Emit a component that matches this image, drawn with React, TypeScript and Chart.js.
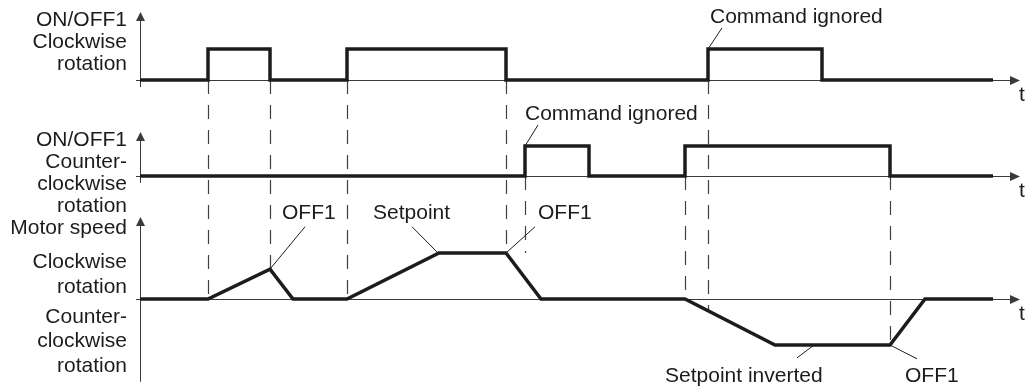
import React, { useEffect, useRef } from 'react';
import { Chart, registerables } from 'chart.js';

Chart.register(...registerables);

const W = 1029;
const H = 386;

// ---- signal data (time in arbitrary units from the vertical axes) ----
const cwTimes = [0, 68, 130, 207, 366, 568, 682, 853];
const cwStates = [0, 1, 0, 1, 0, 1, 0, 0];

const ccwTimes = [0, 385, 449, 545, 750, 853];
const ccwStates = [0, 1, 0, 1, 0, 0];

const speedTimes = [0, 68, 130, 153, 207, 299, 366, 401, 545, 635, 750, 785, 853];
const speedValues = [0, 0, 0.65, 0, 0, 1, 1, 0, 0, -1, -1, 0, 0];

// ---- dashed event markers ----
const markerTimes = [68, 130, 207, 366, 385, 545, 568, 750];
const markerFrom = ['yTop', 'yTop', 'yTop', 'yTop', 'yMid', 'yMid', 'yTop', 'yMid'];
const markerToSpeed = [0, 0.65, 0, 1, 1, 0, -0.26, -1];

// ---- axis labels ----
const topLabels = ['ON/OFF1', 'Clockwise', 'rotation'];
const topLabelAt = [1.74, 1.03, 0.32];
const midLabels = ['ON/OFF1', 'Counter-', 'clockwise', 'rotation'];
const midLabelAt = [1.0, 0.27, -0.47, -1.2];
const botLabels = ['Motor speed', 'Clockwise', 'rotation', 'Counter-', 'clockwise', 'rotation'];
const botLabelAt = [1.41, 0.67, 0.13, -0.52, -1.04, -1.59];

// ---- annotations ----
const noteTexts = ['Command ignored', 'Command ignored', 'OFF1', 'Setpoint', 'OFF1', 'Setpoint inverted', 'OFF1'];
const notePanels = ['yTop', 'yMid', 'yBot', 'yBot', 'yBot', 'yBot', 'yBot'];
const noteTextAt = [[570, 1.83], [385, 1.88], [142, 1.74], [233, 1.74], [398, 1.74], [525, -1.8], [765, -1.8]];
const noteLeaderFrom = [[582, 1.68], [398, 1.7], [165, 1.57], [272, 1.57], [395, 1.57], [657, -1.28], [777, -1.3]];
const noteLeaderTo = [[568, 1], [385, 1], [130, 0.65], [298, 1], [366, 1], [674, -1], [750, -1]];

// vertical axis extents per panel (value range)
const axisPanels = ['yTop', 'yMid', 'yBot'];
const axisLow = [-0.23, -0.23, -1.8];
const axisHigh = [2.19, 1.47, 1.78];

const INK = '#1c1c1c';
const THIN = '#3a3a3a';
const FONT = '21px "Liberation Sans", Arial, sans-serif';

function band(zeroPx: number, unitPx: number) {
  return { min: (zeroPx - H) / unitPx, max: zeroPx / unitPx };
}

const diagramPlugin = {
  id: 'diagram',
  beforeDatasetsDraw(chart: any) {
    const { ctx, chartArea, scales } = chart;
    const xs = scales.x;
    ctx.save();
    ctx.strokeStyle = THIN;
    ctx.fillStyle = THIN;
    ctx.lineWidth = 1;
    axisPanels.forEach((id, i) => {
      const s = scales[id];
      const y0 = Math.round(s.getPixelForValue(0)) + 0.5;
      const xl = chartArea.left;
      const xr = chartArea.right;
      // horizontal time axis
      ctx.beginPath();
      ctx.moveTo(xl - 4, y0);
      ctx.lineTo(xr - 6, y0);
      ctx.stroke();
      ctx.beginPath();
      ctx.moveTo(xr, y0);
      ctx.lineTo(xr - 10, y0 - 4.5);
      ctx.lineTo(xr - 10, y0 + 4.5);
      ctx.closePath();
      ctx.fill();
      // vertical axis
      const yb = s.getPixelForValue(axisLow[i]);
      const yt = s.getPixelForValue(axisHigh[i]);
      const xa = xl + 0.5;
      ctx.beginPath();
      ctx.moveTo(xa, yb);
      ctx.lineTo(xa, yt + 6);
      ctx.stroke();
      ctx.beginPath();
      ctx.moveTo(xa, yt);
      ctx.lineTo(xa - 4.5, yt + 9);
      ctx.lineTo(xa + 4.5, yt + 9);
      ctx.closePath();
      ctx.fill();
      // 't' label
      ctx.font = FONT;
      ctx.textAlign = 'left';
      ctx.textBaseline = 'alphabetic';
      ctx.fillStyle = INK;
      ctx.fillText('t', xr - 1, y0 + 20);
      ctx.fillStyle = THIN;
    });
    // dashed event markers
    ctx.setLineDash([14, 11]);
    ctx.lineWidth = 1.2;
    ctx.strokeStyle = '#404040';
    markerTimes.forEach((t, i) => {
      const x = Math.round(xs.getPixelForValue(t)) + 0.5;
      const y1 = scales[markerFrom[i]].getPixelForValue(0);
      const y2 = scales.yBot.getPixelForValue(markerToSpeed[i]);
      ctx.beginPath();
      ctx.moveTo(x, y1);
      ctx.lineTo(x, y2);
      ctx.stroke();
    });
    ctx.setLineDash([]);
    ctx.restore();
  },
  afterDatasetsDraw(chart: any) {
    const { ctx, chartArea, scales } = chart;
    const xs = scales.x;
    ctx.save();
    ctx.font = FONT;
    ctx.fillStyle = INK;
    ctx.textBaseline = 'alphabetic';
    // left labels
    ctx.textAlign = 'right';
    const lx = chartArea.left - 13;
    topLabels.forEach((t, i) => ctx.fillText(t, lx, scales.yTop.getPixelForValue(topLabelAt[i])));
    midLabels.forEach((t, i) => ctx.fillText(t, lx, scales.yMid.getPixelForValue(midLabelAt[i])));
    botLabels.forEach((t, i) => ctx.fillText(t, lx, scales.yBot.getPixelForValue(botLabelAt[i])));
    // annotations
    ctx.textAlign = 'left';
    ctx.strokeStyle = INK;
    ctx.lineWidth = 1;
    noteTexts.forEach((t, i) => {
      const s = scales[notePanels[i]];
      ctx.fillText(t, xs.getPixelForValue(noteTextAt[i][0]), s.getPixelForValue(noteTextAt[i][1]));
      ctx.beginPath();
      ctx.moveTo(xs.getPixelForValue(noteLeaderFrom[i][0]), s.getPixelForValue(noteLeaderFrom[i][1]));
      ctx.lineTo(xs.getPixelForValue(noteLeaderTo[i][0]), s.getPixelForValue(noteLeaderTo[i][1]));
      ctx.stroke();
    });
    ctx.restore();
  },
};

export default function App() {
  const ref = useRef<HTMLCanvasElement>(null);
  useEffect(() => {
    const canvas = ref.current;
    if (!canvas) return;
    const lineStyle = {
      borderColor: INK,
      borderWidth: 3.5,
      pointRadius: 0,
      borderJoinStyle: 'miter' as const,
      borderCapStyle: 'butt' as const,
      fill: false,
      tension: 0,
    };
    const chart = new Chart(canvas, {
      type: 'line',
      data: {
        datasets: [
          {
            ...lineStyle,
            label: 'ON/OFF1 clockwise',
            yAxisID: 'yTop',
            stepped: 'before',
            data: cwTimes.map((t, i) => ({ x: t, y: cwStates[i] })),
          },
          {
            ...lineStyle,
            label: 'ON/OFF1 counter-clockwise',
            yAxisID: 'yMid',
            stepped: 'before',
            data: ccwTimes.map((t, i) => ({ x: t, y: ccwStates[i] })),
          },
          {
            ...lineStyle,
            label: 'Motor speed',
            yAxisID: 'yBot',
            data: speedTimes.map((t, i) => ({ x: t, y: speedValues[i] })),
          },
        ],
      },
      options: {
        animation: false,
        responsive: false,
        maintainAspectRatio: false,
        layout: { padding: { left: 140, right: 9, top: 0, bottom: 0 } },
        scales: {
          x: { type: 'linear', min: 0, max: 880, display: false },
          yTop: { type: 'linear', display: false, ...band(80, 31) },
          yMid: { type: 'linear', display: false, ...band(176, 30) },
          yBot: { type: 'linear', display: false, ...band(299, 46) },
        },
        plugins: {
          legend: { display: false },
          tooltip: { enabled: false },
        },
      },
      plugins: [diagramPlugin],
    } as any);
    return () => chart.destroy();
  }, []);
  return (
    <div style={{ position: 'fixed', left: 0, top: 0, width: W, height: H, background: '#fff' }}>
      <canvas ref={ref} width={W} height={H} style={{ width: W, height: H, display: 'block' }} />
    </div>
  );
}
